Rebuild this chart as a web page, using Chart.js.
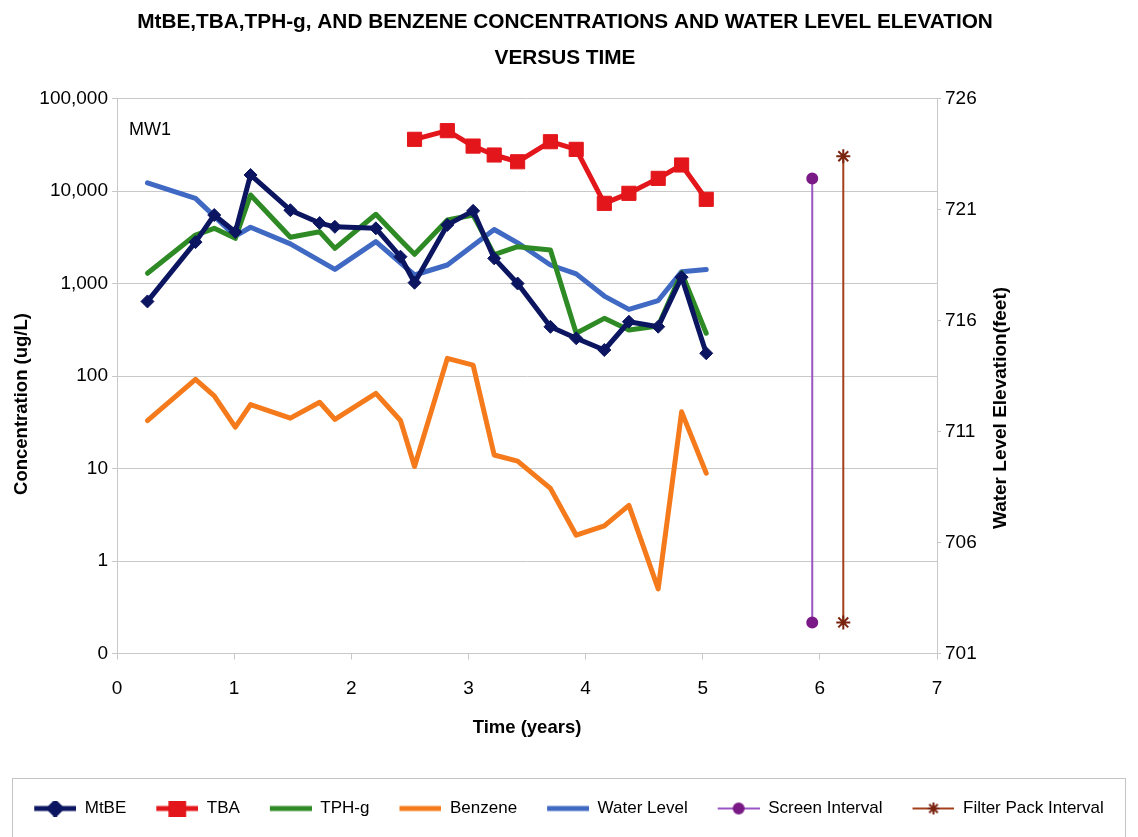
<!DOCTYPE html>
<html>
<head>
<meta charset="utf-8">
<title>MW1 - concentrations and water level versus time</title>
<script src="https://cdn.jsdelivr.net/npm/chart.js@4.4.1/dist/chart.umd.min.js"></script>
<style>
  html, body { margin: 0; padding: 0; background: #fff; }
  #wrap { width: 1138px; height: 837px; }
</style>
</head>
<body>
<div id="wrap"><canvas id="mw1Chart" width="1138" height="837"></canvas></div>
<script>
// sampling times (years since start)
const times = [0.26, 0.67, 0.83, 1.01, 1.14, 1.48, 1.73, 1.86, 2.21, 2.42, 2.54,
               2.82, 3.04, 3.22, 3.42, 3.70, 3.92, 4.16, 4.37, 4.62, 4.82, 5.03];

// concentrations, ug/L (null = not sampled)
const mtbe = [640, 2800, 5500, 3600, 14900, 6200, 4500, 4100, 3950, 1950, 1020,
              4300, 6100, 1870, 1000, 340, 256, 191, 386, 341, 1170, 176];
const tba = [null, null, null, null, null, null, null, null, null, null, 36200,
             44900, 30600, 24500, 20700, 34100, 28200, 7360, 9440, 13700, 19100, 8130];
const tphg = [1290, 3340, 3950, 3080, 9060, 3160, 3630, 2400, 5600, 2950, 2070,
              4860, 5500, 2050, 2500, 2300, 290, 420, 314, 347, 1310, 290];
const benzene = [33, 92, 61, 28, 49, 35, 52, 34, 65, 33, 10.5,
                 155, 131, 14, 12, 6.1, 1.9, 2.4, 4.0, 0.5, 41, 8.9];

// water level elevation, feet
const waterLevel = [722.2, 721.5, null, 719.8, 720.2, 719.45, null, 718.3, 719.55, null, 718.05,
                    718.5, null, 720.1, 719.5, 718.5, 718.1, 717.1, 716.5, 716.9, 718.2, 718.3];

// well construction intervals (elevation, feet)
const screenX = 5.935;
const screenInterval = [722.4, 702.4];
const filterPackX = 6.2;
const filterPackInterval = [723.4, 702.4];

// axis ticks
const concTicks = [0.1, 1, 10, 100, 1000, 10000, 100000];
const concTickLabels = ['0', '1', '10', '100', '1,000', '10,000', '100,000'];

const wellName = 'MW1';
const leftTitle = 'Concentration (ug/L)';
const rightTitle = 'Water Level Elevation(feet)';

const colors = {
    mtbe: '#0b1560',
    tba: '#e3161b',
    tphg: '#2e8a24',
    benzene: '#f47a1c',
    water: '#3f69c2',
    screen: '#9a55c2',
    screenMark: '#7a1a86',
    filter: '#a3401c',
    filterMark: '#7a2410',
    grid: '#c8c8c8'
};

const sans = "'Liberation Sans', Arial, sans-serif";

function pts(values) {
    return times.map(function(t, i) { return { x: t, y: values[i] }; });
}

function interval(x, ends) {
    return ends.map(function(v) { return { x: x, y: v }; });
}

// line + marker pictures used as legend keys (8px blank on the left as spacing)
function legendIcon(color, width, marker, markColor, radius) {
    const c = document.createElement('canvas');
    c.width = 50;
    c.height = 16;
    const g = c.getContext('2d');
    g.strokeStyle = color;
    g.lineWidth = width;
    g.beginPath();
    g.moveTo(8, 8);
    g.lineTo(50, 8);
    g.stroke();
    if (marker) {
        g.fillStyle = markColor;
        g.strokeStyle = markColor;
        Chart.helpers.drawPoint(g, { pointStyle: marker, radius: radius, borderWidth: 2, rotation: 0 }, 29, 8);
    }
    return c;
}

const legendIcons = [
    legendIcon(colors.mtbe, 5, 'rectRot', colors.mtbe, 6),
    legendIcon(colors.tba, 5, 'rect', colors.tba, 9),
    legendIcon(colors.tphg, 5),
    legendIcon(colors.benzene, 5),
    legendIcon(colors.water, 5),
    legendIcon(colors.screen, 2, 'circle', colors.screenMark, 5),
    legendIcon(colors.filter, 2, 'star', colors.filterMark, 6)
];

// well label, side titles (both read upward), legend frame
const extras = {
    id: 'extras',
    afterDraw: function(chart) {
        const ctx = chart.ctx;
        const area = chart.chartArea;
        const midY = (area.top + area.bottom) / 2;
        ctx.save();
        ctx.fillStyle = '#000';
        ctx.textBaseline = 'middle';
        ctx.font = '18px ' + sans;
        ctx.fillText(wellName, area.left + 12, area.top + 32);

        ctx.textAlign = 'center';
        ctx.font = 'bold 18.5px ' + sans;
        ctx.save();
        ctx.translate(22, midY + 28);
        ctx.rotate(-Math.PI / 2);
        ctx.fillText(leftTitle, 0, 0);
        ctx.restore();

        ctx.font = 'bold 19px ' + sans;
        ctx.save();
        ctx.translate(area.right + 64, midY + 32);
        ctx.rotate(-Math.PI / 2);
        ctx.fillText(rightTitle, 0, 0);
        ctx.restore();

        const lg = chart.legend;
        ctx.strokeStyle = '#c4c4c4';
        ctx.lineWidth = 1;
        ctx.strokeRect(12.5, lg.top + 0.5, chart.width - 25, chart.height);
        ctx.restore();
    }
};

const ctx = document.getElementById('mw1Chart');
new Chart(ctx.getContext('2d'), {
    type: 'line',
    data: {
        datasets: [{
            label: 'MtBE',
            data: pts(mtbe),
            yAxisID: 'y',
            borderColor: colors.mtbe,
            backgroundColor: colors.mtbe,
            borderWidth: 5,
            pointStyle: 'rectRot',
            pointRadius: 6.5,
            pointBorderWidth: 1
        }, {
            label: 'TBA',
            data: pts(tba),
            yAxisID: 'y',
            borderColor: colors.tba,
            backgroundColor: colors.tba,
            borderWidth: 5,
            pointStyle: 'rect',
            pointRadius: 10,
            pointBorderWidth: 1,
            spanGaps: true
        }, {
            label: 'TPH-g',
            data: pts(tphg),
            yAxisID: 'y',
            borderColor: colors.tphg,
            backgroundColor: colors.tphg,
            borderWidth: 5,
            pointRadius: 0
        }, {
            label: 'Benzene',
            data: pts(benzene),
            yAxisID: 'y',
            borderColor: colors.benzene,
            backgroundColor: colors.benzene,
            borderWidth: 5,
            pointRadius: 0
        }, {
            label: 'Water Level',
            data: pts(waterLevel),
            yAxisID: 'y2',
            borderColor: colors.water,
            backgroundColor: colors.water,
            borderWidth: 5,
            pointRadius: 0,
            spanGaps: true
        }, {
            label: 'Screen Interval',
            data: interval(screenX, screenInterval),
            yAxisID: 'y2',
            borderColor: colors.screen,
            backgroundColor: colors.screenMark,
            borderWidth: 2,
            pointStyle: 'circle',
            pointRadius: 5,
            pointBorderColor: colors.screenMark
        }, {
            label: 'Filter Pack Interval',
            data: interval(filterPackX, filterPackInterval),
            yAxisID: 'y2',
            borderColor: colors.filter,
            backgroundColor: colors.filterMark,
            borderWidth: 2,
            pointStyle: 'star',
            pointRadius: 7,
            pointBorderWidth: 2,
            pointBorderColor: colors.filterMark
        }]
    },
    options: {
        responsive: false,
        animation: false,
        devicePixelRatio: 1,
        layout: {
            padding: { top: 4, left: 0, right: 8, bottom: 10 }
        },
        elements: {
            line: { tension: 0, borderCapStyle: 'round', borderJoinStyle: 'round' }
        },
        plugins: {
            title: {
                display: true,
                text: ['MtBE,TBA,TPH-g, AND BENZENE CONCENTRATIONS AND WATER LEVEL ELEVATION', 'VERSUS TIME'],
                color: '#000',
                font: { family: sans, size: 20.8, weight: 'bold', lineHeight: 36 / 20.8 },
                padding: { top: 0, bottom: 22.5 }
            },
            legend: {
                position: 'bottom',
                labels: {
                    usePointStyle: true,
                    pointStyleWidth: 50,
                    padding: 22,
                    color: '#000',
                    font: { family: sans, size: 17 },
                    generateLabels: function(chart) {
                        return Chart.defaults.plugins.legend.labels.generateLabels(chart).map(function(item, i) {
                            item.pointStyle = legendIcons[i];
                            return item;
                        });
                    }
                }
            },
            tooltip: { enabled: false }
        },
        scales: {
            x: {
                type: 'linear',
                min: 0,
                max: 7,
                grid: { drawOnChartArea: false, tickLength: 6, color: colors.grid },
                border: { color: colors.grid },
                ticks: {
                    stepSize: 1,
                    padding: 18,
                    color: '#000',
                    font: { family: sans, size: 19 }
                },
                title: {
                    display: true,
                    text: 'Time (years)',
                    color: '#000',
                    font: { family: sans, size: 18.5, weight: 'bold' },
                    padding: { top: 0, bottom: 39 }
                },
                afterFit: function(scale) { scale.height = 124.5; }
            },
            y: {
                type: 'logarithmic',
                position: 'left',
                min: 0.1,
                max: 100000,
                grid: { color: colors.grid, tickLength: 5 },
                border: { color: colors.grid },
                afterBuildTicks: function(scale) {
                    scale.ticks = concTicks.map(function(v) { return { value: v }; });
                },
                ticks: {
                    padding: 4,
                    color: '#000',
                    font: { family: sans, size: 19 },
                    callback: function(value) {
                        const i = concTicks.indexOf(value);
                        return i >= 0 ? concTickLabels[i] : '';
                    }
                },
                afterFit: function(scale) { scale.width = 117; }
            },
            y2: {
                type: 'linear',
                position: 'right',
                min: 701,
                max: 726,
                grid: { drawOnChartArea: false, tickLength: 4, color: colors.grid },
                border: { color: colors.grid },
                ticks: {
                    stepSize: 5,
                    padding: 4,
                    color: '#000',
                    font: { family: sans, size: 19 }
                },
                afterFit: function(scale) { scale.width = 1138 - 8 - 937; }
            }
        }
    },
    plugins: [extras]
});
</script>
</body>
</html>
